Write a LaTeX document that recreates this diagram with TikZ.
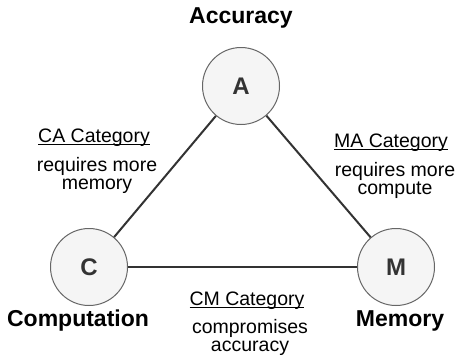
\documentclass[tikz,border=0pt]{standalone}
\usepackage{fontspec}
\setmainfont{Liberation Sans}
\definecolor{nodefill}{HTML}{F5F5F5}
\definecolor{nodeline}{HTML}{666666}
\definecolor{edgeline}{HTML}{333333}
\newlength\catlen
\newcommand\catname[1]{\settowidth\catlen{#1}\rlap{\rule[-2.5pt]{\catlen}{1.2pt}}#1}
\begin{document}
\begin{tikzpicture}[
    x=1pt, y=-1pt,
    vertex/.style={circle, draw=nodeline, fill=nodefill, line width=1pt, minimum size=77pt, inner sep=0pt, text=edgeline, font=\fontsize{24}{28}\selectfont\bfseries},
    edge/.style={draw=edgeline, line width=2pt},
    axis/.style={font=\fontsize{23}{27}\selectfont\bfseries},
    head/.style={inner sep=0pt, font=\fontsize{19.5}{18}\selectfont},
    note/.style={align=center, inner sep=0pt, font=\fontsize{19.5}{18}\selectfont}
]
\useasboundingbox (0,0) rectangle (455,360);

\node[vertex] (a) at (241,86) {A};
\node[vertex] (c) at (89,267) {C};
\node[vertex] (m) at (396,267) {M};

\draw[edge] (a) -- (c);
\draw[edge] (a) -- (m);
\draw[edge] (c) -- (m);

\node[axis] (acc) at (241,18) {Accuracy};
\node[axis] (comp) at (78,321) {Computation};
\node[axis] (mem) at (400,321) {Memory};

% category labels
\node[head] (cah) at (94,138) {\catname{CA Category}};
\node[note] (ca) at (97,175) {requires more\\ memory};
\node[head] (mah) at (391,143) {\catname{MA Category}};
\node[note] (ma) at (395,180) {requires more\\ compute};
\node[head] (cmh) at (247,301) {\catname{CM Category}};
\node[note] (cm) at (250,337) {compromises\\ accuracy};

\end{tikzpicture}
\end{document}
